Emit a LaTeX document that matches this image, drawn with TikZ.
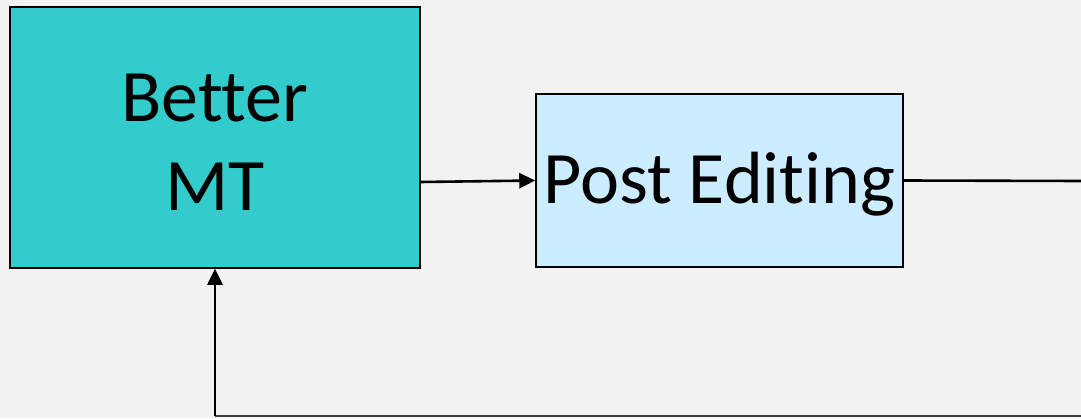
\documentclass[tikz,border=0pt]{standalone}
\usepackage{fontspec}
\setmainfont[Ligatures={NoCommon,NoRare,NoContextual}]{Carlito}
\usetikzlibrary{arrows.meta}
\definecolor{bgc}{HTML}{F2F2F2}
\definecolor{tealc}{HTML}{33CCCC}
\definecolor{bluec}{HTML}{CCECFF}
\tikzset{
  boxa/.style={draw=black, line width=1.5pt, inner sep=0pt},
  lbl/.style={font=\fontsize{74}{89}\selectfont, align=center, inner sep=0pt},
  conn/.style={line width=2.6pt, -{Triangle[length=16pt,width=15pt]}},
  plain/.style={line width=2.6pt}
}
\begin{document}
\begin{tikzpicture}[x=1pt,y=1pt]
\fill[bgc] (0,0) rectangle (1081,418);
\useasboundingbox (0,0) rectangle (1081,418);
\node[boxa, fill=tealc, minimum width=410pt, minimum height=261pt] (mt) at (215,280.5) {};
\node[lbl] (mtt) at (215,276) {Better\\MT};
\node[boxa, fill=bluec, minimum width=367pt, minimum height=173pt] (pe) at (719.5,237.5) {};
\node[lbl] (pet) at (719.5,234) {Post Editing};
\coordinate (r) at (1081,237);
\coordinate (br) at (1081,2);
\coordinate (bl) at (215,2);
\draw[conn] (mt.east |- 0,236) -- (pe.west);
\draw[plain] (pe.east) -- (r);
\draw[line width=1.8pt, draw=black!75] (br) -- (bl);
\draw[conn] (bl) -- (mt.south);
\end{tikzpicture}
\end{document}
